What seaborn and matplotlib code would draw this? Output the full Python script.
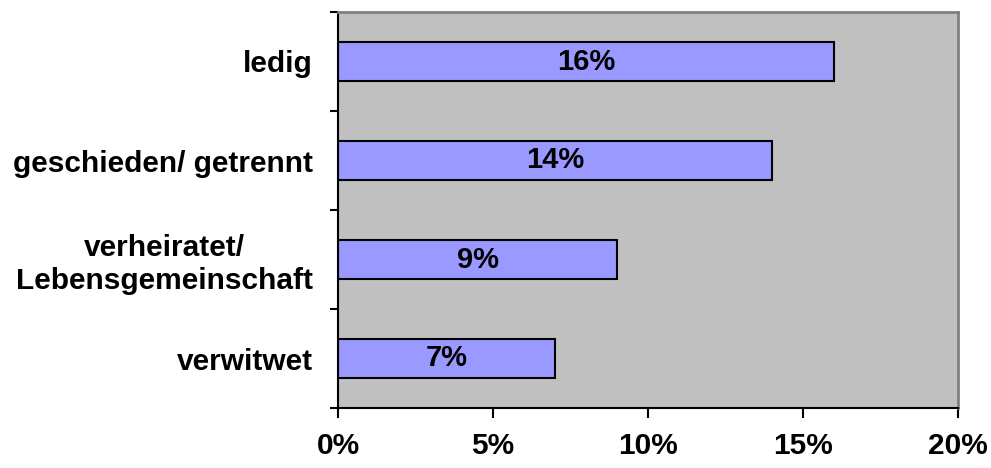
import matplotlib
matplotlib.use("Agg")
import matplotlib.pyplot as plt
import seaborn as sns
import pandas as pd
import numpy as np
from matplotlib.ticker import FixedLocator

categories = ["ledig", "geschieden/ getrennt", "verheiratet/\nLebensgemeinschaft", "verwitwet"]
values = [16, 14, 9, 7]
x_ticks = [0, 5, 10, 15, 20]
x_tick_labels = ["0%", "5%", "10%", "15%", "20%"]

df = pd.DataFrame({"Familienstand": categories, "Anteil": values})

sns.set_theme(style="white")
plt.rcParams["font.family"] = ["Liberation Sans", "DejaVu Sans"]
plt.rcParams["text.color"] = "black"
plt.rcParams["xtick.color"] = "black"
plt.rcParams["ytick.color"] = "black"

fig = plt.figure(figsize=(9.91, 4.68), dpi=100)
ax = fig.add_axes([338 / 991, 1 - 408 / 468, 620 / 991, 396 / 468])
ax.set_facecolor("#C0C0C0")

sns.barplot(data=df, x="Anteil", y="Familienstand", orient="h", width=0.4,
            color="#9999FF", edgecolor="black", linewidth=1.5, saturation=1,
            ax=ax)

ax.set_xlim(0, 20)
ax.set_ylim(len(categories) - 0.5, -0.5)
ax.set_xlabel("")
ax.set_ylabel("")

ax.set_xticks(x_ticks)
ax.set_xticklabels(x_tick_labels, fontsize=21.5, fontweight="bold", color="black")
ax.tick_params(axis="x", which="major", direction="out", length=7.5, width=1.5,
               color="black", pad=10, bottom=True)

ax.set_yticks(range(len(categories)))
ax.set_yticklabels(categories, fontsize=21.5, fontweight="bold", color="black",
                   linespacing=1.2, multialignment="center")
ax.tick_params(axis="y", which="major", length=0, pad=18)
ax.yaxis.set_minor_locator(FixedLocator(np.arange(-0.5, len(categories), 1.0)))
ax.tick_params(axis="y", which="minor", direction="out", length=6, width=1.5,
               color="black", left=True)

for side in ["left", "bottom"]:
    ax.spines[side].set_color("black")
    ax.spines[side].set_linewidth(1.5)
for side in ["top", "right"]:
    ax.spines[side].set_color("#808080")
    ax.spines[side].set_linewidth(2)

for container in ax.containers:
    ax.bar_label(container, labels=[f"{v}%" for v in values], label_type="center",
                 fontsize=21, fontweight="bold", color="black")

fig.savefig("out.png", dpi=100, facecolor="white")
